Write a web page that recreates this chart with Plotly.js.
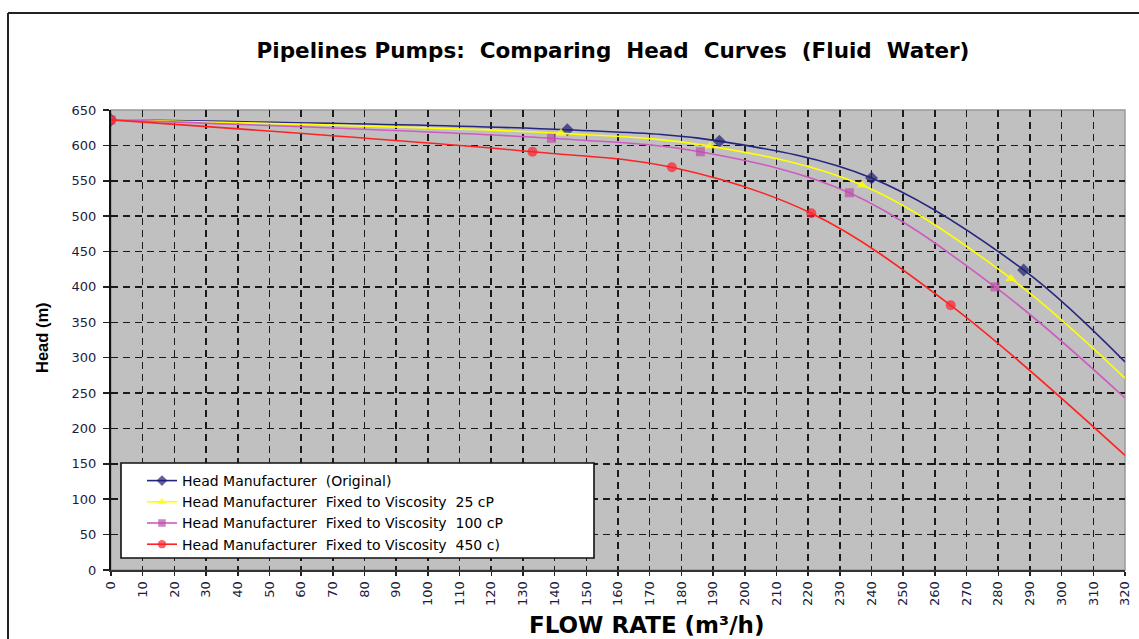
<!DOCTYPE html>
<html>
<head>
<meta charset="utf-8">
<script src="https://cdn.plot.ly/plotly-3.0.1.min.js"></script>
<style>
html,body{margin:0;padding:0;background:#fff;}
#chart{width:1139px;height:639px;}
</style>
</head>
<body>
<div id="chart"></div>
<script>
// Flow rate (m3/h) and head (m); marker size 0 = curve point without a marker
const origFlow = [0, 144, 192, 240, 288, 320];
const origHead = [636, 622, 606, 554, 424, 294];
const origMark = [10, 10, 10, 10, 10, 0];

const v25Flow = [0, 142, 189, 237, 284, 320];
const v25Head = [636, 617, 599, 544, 412, 271];
const v25Mark = [10, 10, 10, 10, 10, 0];

const v100Flow = [0, 139, 186, 233, 279, 320];
const v100Head = [636, 610, 591, 533, 400, 243];
const v100Mark = [9, 9, 9, 9, 9, 0];

const v450Flow = [0, 133, 177, 221, 265, 320];
const v450Head = [636, 591, 569, 504, 374, 162];
const v450Mark = [10, 10, 10, 10, 10, 0];

const seriesNames = [
  "Head Manufacturer\u00a0 (Original)",
  "Head Manufacturer\u00a0 Fixed to Viscosity\u00a0 25 cP",
  "Head Manufacturer\u00a0 Fixed to Viscosity\u00a0 100 cP",
  "Head Manufacturer\u00a0 Fixed to Viscosity\u00a0 450 c)"
];
const seriesColors = ["#262680", "#ffff00", "#cc5cc0", "#ff2222"];
const markerColors = ["#1f1f70", "#ffff00", "#bb4fa8", "#ff1f2f"];
const seriesSymbols = ["diamond", "triangle-up", "square", "circle"];

const xs = [origFlow, v25Flow, v100Flow, v450Flow];
const ys = [origHead, v25Head, v100Head, v450Head];
const ms = [origMark, v25Mark, v100Mark, v450Mark];

const traces = xs.map((x, i) => ({
  type: "scatter",
  mode: "lines+markers",
  x: x,
  y: ys[i],
  name: seriesNames[i],
  line: {color: seriesColors[i], width: 1.6, shape: "spline", smoothing: 1},
  marker: {color: markerColors[i], symbol: seriesSymbols[i], size: ms[i], line: {width: 0}},
  cliponaxis: true
}));

// plot area in page px: x 111..1125, y 110..570
const L = 111, R = 1125, T = 110, B = 570, W = 1139, H = 639;
const px = v => (v - L) / (R - L);
const py = v => (B - v) / (B - T);

const tickFont = {family: "DejaVu Sans", size: 13, color: "#1c1c3c"};

const layout = {
  width: W, height: H,
  margin: {l: L, r: W - R, t: T, b: H - B},
  paper_bgcolor: "#ffffff",
  plot_bgcolor: "#c0c0c0",
  showlegend: true,
  title: {
    text: "Pipelines Pumps:\u00a0 Comparing\u00a0 Head\u00a0 Curves\u00a0 (Fluid\u00a0 Water)",
    font: {family: "DejaVu Sans", size: 21.5, color: "#000", weight: "bold"},
    xref: "container", yref: "container",
    x: 613 / W, y: 1 - 50 / H, xanchor: "center", yanchor: "middle"
  },
  xaxis: {
    range: [0, 320], dtick: 10, tick0: 0,
    tickangle: -90,
    tickfont: tickFont,
    ticks: "outside", ticklen: 4, tickcolor: "#222", tickwidth: 1.5,
    showline: true, linecolor: "#333", linewidth: 2,
    showgrid: true, gridcolor: "#1a1a1a", gridwidth: 1.6, griddash: "7px,5px",
    zeroline: false, fixedrange: true
  },
  yaxis: {
    range: [0, 650], dtick: 50, tick0: 0,
    tickfont: tickFont,
    ticks: "outside", ticklen: 6, tickcolor: "#222", tickwidth: 1.5,
    ticklabelstandoff: 4,
    showline: true, linecolor: "#111", linewidth: 2,
    showgrid: true, gridcolor: "#1a1a1a", gridwidth: 1.6, griddash: "7px,5px",
    zeroline: false, fixedrange: true
  },
  legend: {
    x: px(142), y: py(465), xanchor: "left", yanchor: "top",
    bgcolor: "rgba(0,0,0,0)", borderwidth: 0,
    font: {family: "DejaVu Sans", size: 14, color: "#000"},
    tracegroupgap: 0
  },
  shapes: [
    // outer frame (top and left edges)
    {type: "line", xref: "paper", yref: "paper", x0: px(8), x1: px(1139), y0: py(13), y1: py(13),
     line: {color: "#222", width: 2}},
    {type: "line", xref: "paper", yref: "paper", x0: px(8), x1: px(8), y0: py(13), y1: py(640),
     line: {color: "#222", width: 2}},
    // plot area edge (top/right)
    {type: "rect", xref: "paper", yref: "paper", x0: 0, x1: 1, y0: 0, y1: 1,
     line: {color: "#999", width: 1.5}, layer: "below"},
    // legend box
    {type: "rect", xref: "paper", yref: "paper", x0: px(121), x1: px(594), y0: py(558), y1: py(463),
     line: {color: "#111", width: 1.6}, fillcolor: "#ffffff", layer: "above"}
  ],
  annotations: [
    {text: "<b>FLOW RATE (m³/h)</b>", xref: "paper", yref: "paper", x: px(646), y: py(625),
     xanchor: "center", yanchor: "middle", showarrow: false,
     font: {family: "DejaVu Sans", size: 23, color: "#000"}},
    {text: "<b>Head (m)</b>", xref: "paper", yref: "paper", x: px(42), y: py(338),
     xanchor: "center", yanchor: "middle", showarrow: false, textangle: -90,
     font: {family: "Liberation Sans", size: 16.5, color: "#000"}}
  ]
};

Plotly.newPlot("chart", traces, layout, {displayModeBar: false, staticPlot: true});
</script>
</body>
</html>
